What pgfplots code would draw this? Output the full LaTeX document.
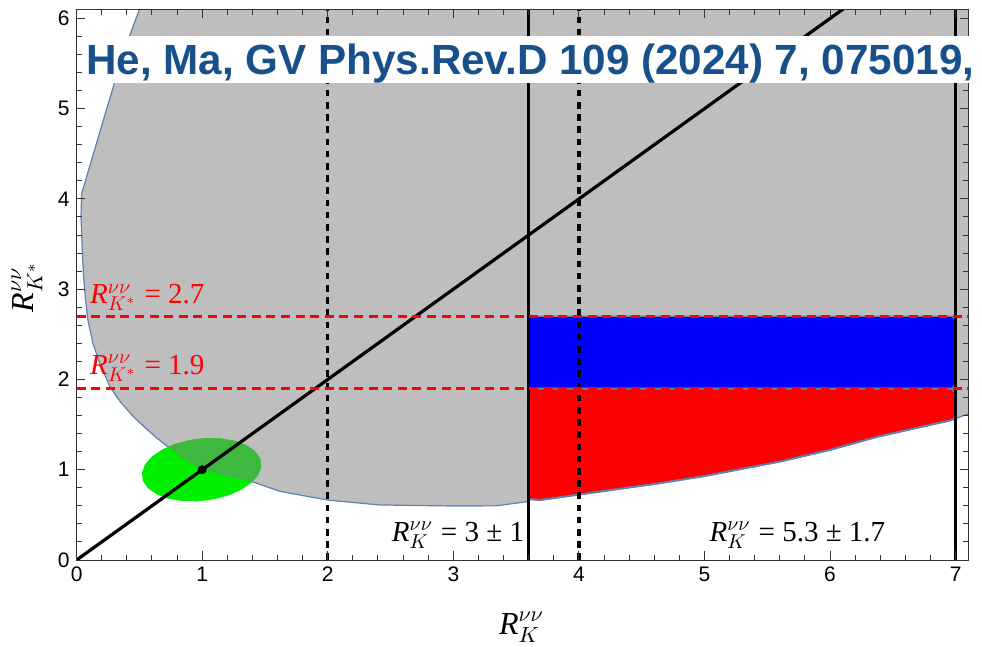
\documentclass[border=0pt]{standalone}
\usepackage[no-math]{fontspec}
\setmainfont{Liberation Sans}
\newfontfamily\tnr{Liberation Serif}
\usepackage{pgfplots}
\pgfplotsset{compat=1.18}

\definecolor{regiongray}{RGB}{190,190,190}
\definecolor{edgeblue}{RGB}{94,129,181}
\definecolor{brightgreen}{RGB}{0,238,0}
\definecolor{overlapgreen}{RGB}{62,184,62}
\definecolor{titleblue}{RGB}{24,80,140}

\tikzset{bandlabel/.style={inner sep=0pt, font=\fontsize{14.5}{16}\selectfont}}

% R with a nu-nu superscript and a meson subscript
\newcommand{\Rnn}[1]{{\tnr\itshape R}$^{\nu\nu}_{#1}$}

\begin{document}
\begin{tikzpicture}
\begin{axis}[
  scale only axis, width=445.8pt, height=275.3pt,
  xmin=0, xmax=7.1, ymin=0, ymax=6.1,
  xtick={0,...,7}, ytick={0,...,6},
  minor x tick num=4, minor y tick num=4,
  tick align=inside, tick pos=both,
  major tick length=4.3pt, minor tick length=2.7pt,
  every tick/.style={black!80, line width=0.5pt},
  axis line style={black!80, line width=0.5pt},
  axis on top,
  ticklabel style={font=\fontsize{10.5}{12}\selectfont},
  /pgf/number format/assume math mode=true,
  xlabel={\Rnn{K}},
  ylabel={\Rnn{K^*}},
  label style={font=\fontsize{16}{18}\selectfont},
  xlabel style={at={(axis description cs:0.499,-0.1224)}, anchor=center},
  ylabel style={at={(axis description cs:-0.0556,0.496)}, anchor=center},
]

% allowed region (gray)
\addplot[fill=regiongray, draw=none] coordinates {
  (0.50,6.1) (0.42,5.8) (0.30,5.28) (0.17,4.67) (0.04,4.06) (0.035,3.8)
  (0.045,3.45) (0.053,3.19) (0.07,2.9) (0.09,2.66) (0.13,2.4) (0.185,2.18)
  (0.265,1.92) (0.35,1.75) (0.45,1.59) (0.55,1.46) (0.64,1.35) (0.727,1.255)
  (0.85,1.12) (1.0,1.0) (1.2,0.925) (1.40,0.866) (1.62,0.76) (2.0,0.664)
  (2.41,0.61) (3.0,0.598) (3.34,0.60) (3.58,0.645) (3.6,0.675) (3.69,0.664)
  (4.0,0.725) (4.64,0.85) (5.0,0.93) (5.6,1.09) (6.0,1.22) (6.39,1.37)
  (6.97,1.55) (7.1,1.62) (7.1,6.1)
} -- cycle;
\addplot[edgeblue, line width=0.6pt] coordinates {
  (0.50,6.1) (0.42,5.8) (0.30,5.28) (0.17,4.67) (0.04,4.06) (0.035,3.8)
  (0.045,3.45) (0.053,3.19) (0.07,2.9) (0.09,2.66) (0.13,2.4) (0.185,2.18)
  (0.265,1.92) (0.35,1.75) (0.45,1.59) (0.55,1.46) (0.64,1.35) (0.727,1.255)
  (0.85,1.12) (1.0,1.0) (1.2,0.925) (1.40,0.866) (1.62,0.76) (2.0,0.664)
  (2.41,0.61) (3.0,0.598) (3.34,0.60) (3.58,0.645) (3.6,0.675) (3.69,0.664)
  (4.0,0.725) (4.64,0.85) (5.0,0.93) (5.6,1.09) (6.0,1.22) (6.39,1.37)
  (6.97,1.55) (7.1,1.62)
};

% blue band 1.9 < R_K* < 2.7
\addplot[fill=blue, draw=edgeblue, line width=0.6pt] coordinates {
  (3.6,1.9) (6.97,1.9) (7.0,1.95) (7.0,2.65) (6.97,2.7) (3.6,2.7)
} -- cycle;

% red band below 1.9
\addplot[fill=red, draw=edgeblue, line width=1pt] coordinates {
  (3.6,1.9) (3.6,0.675) (3.69,0.664) (4.0,0.725) (4.64,0.85) (5.0,0.93)
  (5.6,1.09) (6.0,1.22) (6.39,1.37) (6.97,1.55) (7.0,1.58) (7.0,1.85) (6.97,1.9)
} -- cycle;

% SM ellipse
\addplot[fill=brightgreen, draw=none] coordinates {
  (1.470,1.035) (1.462,1.124) (1.421,1.205) (1.352,1.272) (1.259,1.321)
  (1.147,1.347) (1.025,1.350) (0.901,1.329) (0.784,1.286) (0.680,1.223)
  (0.599,1.145) (0.544,1.057) (0.520,0.965) (0.528,0.876) (0.569,0.795)
  (0.638,0.728) (0.732,0.679) (0.843,0.653) (0.965,0.650) (1.089,0.671)
  (1.207,0.714) (1.310,0.777) (1.391,0.855) (1.446,0.943)
} -- cycle;
% part of the ellipse inside the gray region
\addplot[fill=overlapgreen, draw=none] coordinates {
  (1.40,0.866) (1.446,0.943) (1.470,1.035) (1.462,1.124) (1.421,1.205)
  (1.352,1.272) (1.259,1.321) (1.147,1.347) (1.025,1.350) (0.901,1.329)
  (0.784,1.286) (0.727,1.255) (0.85,1.12) (1.0,1.0) (1.2,0.925)
} -- cycle;

% R_K = R_K* line
\addplot[black, line width=1.6pt] coordinates {(0,0) (6.2,6.2)};

% R_K bounds
\addplot[black, line width=1.6pt, dash pattern=on 3.3pt off 2.8pt] coordinates {(2,0) (2,6.1)};
\addplot[black, line width=1.6pt, dash pattern=on 3.3pt off 2.8pt] coordinates {(4,0) (4,6.1)};
\addplot[black, line width=1.6pt] coordinates {(3.6,0) (3.6,6.1)};
\addplot[black, line width=1.6pt] coordinates {(7.0,0) (7.0,6.1)};

% R_K* bounds
\addplot[red, line width=1.5pt, dash pattern=on 4.5pt off 2.8pt] coordinates {(0,2.7) (7.1,2.7)};
\addplot[red, line width=1.5pt, dash pattern=on 4.5pt off 2.8pt] coordinates {(0,1.9) (7.1,1.9)};

% SM point
\addplot[only marks, mark=*, mark size=2pt, black] coordinates {(1,1)};

\node[bandlabel, anchor=base west, text=red] at (axis cs:0.105,2.84) {\Rnn{K^*} {\tnr = 2.7}};
\node[bandlabel, anchor=base west, text=red] at (axis cs:0.105,2.06) {\Rnn{K^*} {\tnr = 1.9}};
\node[bandlabel, anchor=base east] at (axis cs:3.566,0.21) {\Rnn{K} {\tnr = 3 ± 1}};
\node[bandlabel, anchor=base] at (axis cs:5.74,0.21) {\Rnn{K} {\tnr = 5.3 ± 1.7}};

\coordinate (titlepos) at (axis cs:0.042,5.38);
\coordinate (bl) at (rel axis cs:0,0);
\coordinate (tr) at (rel axis cs:1,1);
\end{axis}

\node[anchor=base west, fill=white, inner xsep=2pt, inner ysep=0pt,
      text height=19pt, text depth=4.35pt, text=titleblue,
      font=\bfseries\fontsize{21.1}{24}\selectfont] at (titlepos)
  {He, Ma, GV Phys.Rev.D 109 (2024) 7, 075019,};

\pgfresetboundingbox
\path ([shift={(-38.3pt,-43pt)}]bl) rectangle ([shift={(6.9pt,4.7pt)}]tr);
\end{tikzpicture}
\end{document}
